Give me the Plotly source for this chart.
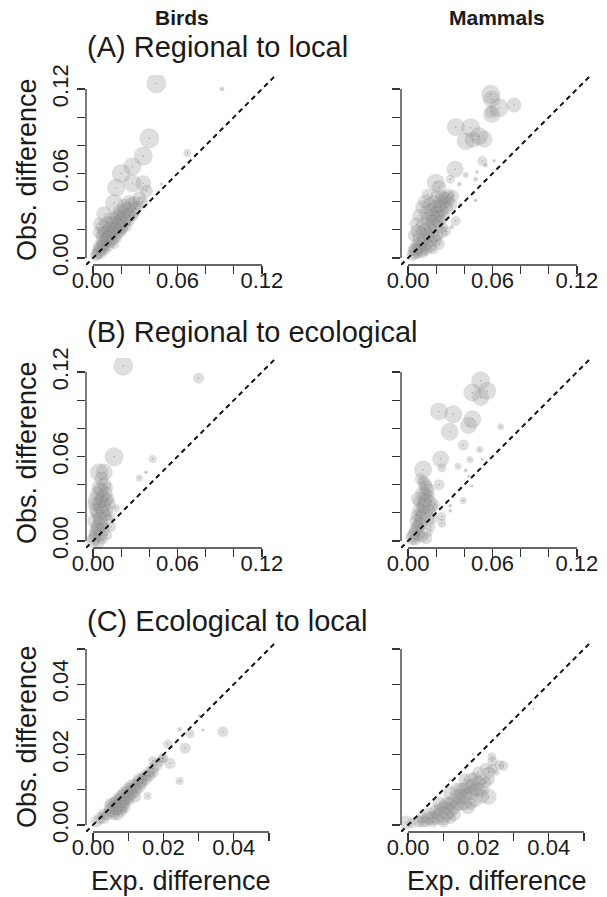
import plotly.graph_objects as go

W, H = 607, 897

# ---------------- data (x = expected diff, y = observed diff, s = weight) ----------------
a_birds_x = [0.045,0.0916,0.040,0.0357,0.028,0.020,0.0164,0.028,0.0357,0.038,0.0486,0.067,0.015,0.0079,0.0257,0.033,
             0.003,0.005,0.004,0.006,0.008,0.008,0.010,0.010,0.012,0.012,0.014,0.014,0.016,0.016,0.018,0.018,0.020,0.020,
             0.022,0.022,0.024,0.026,0.028,0.030,0.025,0.006,0.009,0.012,0.013,0.018,0.015,0.020,0.024,0.004,0.005,0.007,0.010,0.010,
             0.002,0.004,0.007,0.009,0.011,0.013,0.015,0.017,0.019,0.021,0.023,0.027,0.029,0.011,0.008,0.006,0.014,0.016,0.019,0.022,
             0.017,0.021,0.026,0.029,0.032,0.035]
a_birds_y = [0.124,0.120,0.085,0.0725,0.065,0.060,0.050,0.053,0.053,0.0476,0.0526,0.0746,0.039,0.031,0.039,0.0426,
             0.003,0.004,0.008,0.007,0.006,0.010,0.009,0.013,0.012,0.016,0.014,0.019,0.017,0.022,0.020,0.025,0.022,0.027,
             0.025,0.030,0.028,0.030,0.033,0.035,0.035,0.012,0.015,0.022,0.028,0.030,0.010,0.018,0.022,0.018,0.024,0.022,0.025,0.019,
             0.002,0.005,0.009,0.012,0.015,0.018,0.021,0.024,0.028,0.032,0.034,0.038,0.040,0.020,0.018,0.016,0.025,0.028,0.033,0.037,
             0.014,0.020,0.026,0.030,0.037,0.040]
a_birds_s = [20,5,20,19,18,19,18,18,16,13,3,8,18,16,16,14,
             12,14,12,14,12,14,14,14,14,14,14,14,14,14,14,14,14,14,
             14,14,14,14,14,14,14,12,12,12,14,14,10,10,10,12,14,14,14,14,
             12,14,14,14,14,14,14,14,14,14,14,14,12,14,14,12,14,14,14,14,
             10,10,10,10,10,12]

a_mam_x = [0.0587,0.0594,0.0646,0.0594,0.0753,0.059,0.0339,0.0445,0.041,0.0504,0.054,0.046,0.0528,0.055,0.061,0.0334,0.041,0.049,
           0.048,0.0365,0.048,0.030,0.0197,0.022,0.028,0.0339,0.037,0.0066,0.027,0.031,
           0.003,0.005,0.008,0.010,0.012,0.014,0.015,0.016,0.018,0.018,0.020,0.020,0.022,0.022,0.024,0.025,0.027,0.028,0.026,0.030,
           0.012,0.008,0.010,0.013,0.016,0.020,0.024,0.006,0.004,0.017,0.021,0.023,0.032,
           0.008,0.010,0.012,0.006,0.004,0.014,0.016,0.018,0.022,0.018,
           0.006,0.009,0.011,0.013,0.015,0.017,0.019,0.021,0.023,0.025,0.011,0.013,0.015,0.019,0.024,0.029,0.009,0.007,0.012,
           0.017,0.021,0.025,0.014,0.020]
a_mam_y = [0.1163,0.1127,0.1067,0.102,0.1087,0.104,0.093,0.0925,0.083,0.0866,0.0843,0.084,0.0689,0.066,0.069,0.063,0.059,0.061,
           0.056,0.0526,0.041,0.056,0.0535,0.050,0.0428,0.0263,0.038,0.019,0.019,0.022,
           0.002,0.004,0.008,0.006,0.012,0.010,0.016,0.020,0.015,0.024,0.022,0.028,0.030,0.026,0.034,0.030,0.036,0.040,0.042,0.038,
           0.020,0.014,0.004,0.006,0.008,0.012,0.018,0.010,0.006,0.030,0.036,0.040,0.044,
           0.030,0.036,0.040,0.024,0.016,0.028,0.034,0.040,0.010,0.006,
           0.006,0.010,0.014,0.017,0.022,0.026,0.030,0.033,0.037,0.039,0.024,0.032,0.038,0.036,0.044,0.045,0.019,0.003,0.008,
           0.012,0.016,0.022,0.045,0.044]
a_mam_s = [19,17,19,17,15,13,18,19,18,18,17,16,10,5,4,17,6,4,
           5,5,4,9,18,15,14,10,4,14,10,5,
           12,14,14,14,14,12,14,14,14,14,14,14,14,14,14,14,14,14,14,14,
           14,14,12,12,12,12,12,12,12,14,14,14,12,
           14,14,14,14,12,14,14,14,12,10,
           14,14,14,14,14,14,14,14,14,14,14,14,14,14,12,12,12,10,12,
           12,12,10,12,12]

b_birds_x = [0.0214,0.075,0.015,0.0043,0.0079,0.0329,0.0376,0.0424,0.0162,0.0055,0.002,0.0093,
             0.001,0.002,0.003,0.001,0.004,0.002,0.005,0.006,0.007,0.008,0.004,0.008,0.010,0.010,0.012,0.006,0.003,0.009,0.012,
             0.010,0.013,0.000,0.004,0.007,
             0.002,0.003,0.004,0.005,0.003,0.006,0.005,0.007,0.004,0.008,0.001,0.009,0.007,0.011,0.006,0.010]
b_birds_y = [0.1245,0.1157,0.0598,0.0488,0.0488,0.0448,0.0488,0.0583,0.0233,0.036,0.029,0.029,
             0.002,0.006,0.010,0.014,0.018,0.022,0.004,0.012,0.020,0.025,0.026,0.008,0.015,0.022,0.018,0.030,0.034,0.034,0.026,
             0.004,0.010,0.000,-0.001,0.001,
             0.004,0.008,0.012,0.016,0.020,0.024,0.028,0.032,0.038,0.040,0.026,0.018,0.010,0.030,0.044,0.038]
b_birds_s = [20,11,19,18,17,7,4,8,8,15,16,14,
             14,14,14,14,14,14,14,14,14,14,14,12,12,12,10,14,14,14,12,
             10,10,14,12,10,
             14,14,14,14,14,14,14,14,14,14,14,12,12,12,14,12]

b_mam_x = [0.0516,0.0457,0.0563,0.0516,0.022,0.0322,0.0457,0.043,0.0296,0.0658,0.0393,0.0509,0.0232,0.024,0.0355,0.044,0.0526,
           0.0107,0.022,0.041,0.043,0.0393,0.030,0.032,0.0239,0.024,0.030,0.0455,
           0.003,0.005,0.007,0.006,0.009,0.010,0.008,0.012,0.011,0.013,0.010,0.014,0.012,0.016,0.015,0.018,0.016,0.014,0.019,
           0.008,0.013,0.007,0.009,
           0.004,0.006,0.008,0.009,0.010,0.011,0.012,0.012,0.013,0.011,0.015,0.017,0.006,0.008,0.005,0.010,0.015,0.018]
b_mam_y = [0.1138,0.1055,0.1067,0.1019,0.092,0.090,0.0864,0.082,0.0776,0.0812,0.0681,0.065,0.0583,0.052,0.053,0.0579,0.058,
           0.0507,0.040,0.050,0.046,0.0288,0.025,0.031,0.0174,0.0126,0.0215,0.039,
           0.002,0.006,0.010,0.014,0.012,0.018,0.022,0.020,0.026,0.030,0.034,0.036,0.040,0.028,0.022,0.016,0.010,0.006,0.026,
           0.004,0.002,0.030,0.044,
           0.004,0.008,0.012,0.016,0.021,0.024,0.028,0.033,0.038,0.042,0.032,0.020,0.018,0.028,0.001,0.003,0.014,0.024]
b_mam_s = [19,18,18,17,18,18,18,17,18,7,11,7,17,9,7,7,3,
           18,11,4,3,7,4,3,9,9,4,3,
           14,14,14,14,14,14,14,14,14,14,14,14,14,12,12,10,10,10,10,
           12,12,14,12,
           14,14,14,14,14,14,14,14,14,12,12,10,12,12,12,12,10,10]

c_birds_x = [0.0369,0.0312,0.0303,0.0276,0.0246,0.0262,0.0212,0.0219,0.0246,0.0155,0.0197,0.0169,0.0141,
             0.001,0.002,0.003,0.004,0.005,0.006,0.006,0.007,0.007,0.008,0.008,0.009,0.009,0.010,0.010,0.011,0.011,0.012,
             0.013,0.013,0.014,0.015,0.016,0.017,0.018,0.006,0.008,0.009,0.012,
             0.003,0.005,0.006,0.007,0.008,0.009,0.010,0.011,0.012,0.013,0.014,0.015,0.016,0.017,0.019,0.020,0.008,0.010,0.007,0.005]
c_birds_y = [0.0265,0.027,0.031,0.0259,0.0272,0.0218,0.023,0.0175,0.0125,0.0082,0.0189,0.0183,0.0137,
             0.001,0.002,0.002,0.003,0.004,0.005,0.006,0.005,0.007,0.006,0.008,0.007,0.009,0.008,0.010,0.009,0.011,0.010,
             0.011,0.012,0.012,0.013,0.014,0.015,0.017,0.003,0.004,0.005,0.008,
             0.003,0.005,0.004,0.006,0.007,0.008,0.009,0.010,0.011,0.013,0.013,0.014,0.015,0.016,0.018,0.019,0.005,0.007,0.003,0.006]
c_birds_s = [11,3,4,9,5,11,9,11,8,8,9,9,10,
             12,12,12,12,14,14,14,16,14,16,14,14,14,14,14,14,14,14,
             14,14,12,12,12,12,12,12,12,12,12,
             12,14,14,16,16,16,14,14,14,12,12,12,12,12,10,10,14,12,12,12]

c_mam_x = [0.0238,0.0271,0.0229,-0.0006,0.0356,0.0185,0.0118,0.025,
           0.001,0.003,0.004,0.005,0.006,0.007,0.008,0.009,0.010,0.010,0.011,0.012,0.013,0.013,0.014,0.015,0.015,0.016,
           0.017,0.017,0.018,0.018,0.019,0.020,0.020,0.021,0.022,0.023,0.024,0.026,0.012,0.009,0.016,
           0.006,0.008,0.009,0.011,0.011,0.012,0.013,0.014,0.014,0.015,0.016,0.016,0.017,0.018,0.019,0.019,0.020,0.021,0.022,
           0.023,0.024,0.012,0.010,0.007,0.004,0.018,0.021]
c_mam_y = [0.0194,0.0168,0.008,0.0007,0.033,0.0202,0.0127,0.015,
           0.0005,0.001,0.002,0.001,0.003,0.002,0.004,0.003,0.005,0.002,0.006,0.004,0.007,0.003,0.008,0.006,0.010,0.008,
           0.011,0.005,0.013,0.009,0.007,0.012,0.015,0.010,0.016,0.013,0.018,0.017,0.009,0.006,0.013,
           0.002,0.002,0.004,0.003,0.005,0.006,0.005,0.006,0.010,0.008,0.010,0.006,0.009,0.011,0.010,0.013,0.010,0.013,0.012,
           0.015,0.016,0.002,0.001,0.001,0.001,0.006,0.008]
c_mam_s = [9,10,16,14,2,2,2,7,
           10,12,12,12,14,14,14,14,14,14,14,14,14,14,14,14,14,14,
           14,14,14,14,14,14,12,14,12,12,10,10,14,14,12,
           14,14,14,14,14,14,14,14,14,14,14,14,14,14,14,14,14,12,12,
           12,10,12,12,12,12,12,14]

col_titles = ["Birds", "Mammals"]
row_titles = ["(A) Regional to local", "(B) Regional to ecological", "(C) Ecological to local"]
y_title = "Obs. difference"
x_title = "Exp. difference"

ticks_ab = [0.0, 0.02, 0.04, 0.06, 0.08, 0.10, 0.12]
labels_ab = ["0.00", "", "", "0.06", "", "", "0.12"]
ticks_c = [0.0, 0.01, 0.02, 0.03, 0.04, 0.05]
labels_c = ["0.00", "", "0.02", "", "0.04", ""]
range_ab = [-0.005, 0.130]
range_c = [-0.002, 0.052]

panels = [
    (a_birds_x, a_birds_y, a_birds_s), (a_mam_x, a_mam_y, a_mam_s),
    (b_birds_x, b_birds_y, b_birds_s), (b_mam_x, b_mam_y, b_mam_s),
    (c_birds_x, c_birds_y, c_birds_s), (c_mam_x, c_mam_y, c_mam_s),
]

# ---------------- layout geometry (pixels) ----------------
def px(x): return x / W
def py(y): return 1 - y / H

col_px = [(86, 276), (401, 591)]
row_px = [(75, 265), (358, 548), (642, 832)]

FONT = "Liberation Sans, Arial, Helvetica, sans-serif"
TXT = "#1a1a1a"
AX = "#333333"

fig = go.Figure()
layout = dict(
    width=W, height=H, margin=dict(l=0, r=0, t=0, b=0, autoexpand=False),
    paper_bgcolor="white", plot_bgcolor="white", showlegend=False,
    font=dict(family=FONT, color=TXT),
)
shapes = []
annotations = []

for i, (xs, ys, ss) in enumerate(panels):
    r, c = divmod(i, 2)
    n = i + 1
    xa = "x" if n == 1 else f"x{n}"
    ya = "y" if n == 1 else f"y{n}"
    rng = range_c if r == 2 else range_ab
    tv = ticks_c if r == 2 else ticks_ab
    tt = labels_c if r == 2 else labels_ab
    ytt = tt if c == 0 else [""] * len(tv)

    fig.add_trace(go.Scatter(
        x=xs, y=ys, mode="markers", xaxis=xa, yaxis=ya, hoverinfo="skip",
        marker=dict(size=ss, sizemode="diameter",
                    color="rgba(150,150,150,0.44)", line=dict(width=0)),
    ))
    fig.add_trace(go.Scatter(
        x=xs, y=ys, mode="markers", xaxis=xa, yaxis=ya, hoverinfo="skip",
        marker=dict(size=1.4, color="rgba(120,120,120,0.6)", line=dict(width=0)),
    ))

    axcommon = dict(range=rng, showgrid=False, zeroline=False, showline=False, automargin=False,
                    ticks="outside", ticklen=8, tickwidth=1.3, tickcolor=AX,
                    tickmode="array", tickvals=tv,
                    tickfont=dict(family=FONT, size=22, color=TXT), fixedrange=True)
    layout["xaxis" if n == 1 else f"xaxis{n}"] = dict(
        axcommon, domain=[px(col_px[c][0]), px(col_px[c][1])], anchor=ya, tickangle=0, ticktext=tt,
        ticklabelstandoff=-12)
    layout["yaxis" if n == 1 else f"yaxis{n}"] = dict(
        axcommon, domain=[py(row_px[r][1]), py(row_px[r][0])], anchor=xa, tickangle=-90, ticktext=ytt)

    # axis lines from first to last tick (R style)
    shapes.append(dict(type="line", xref=xa, yref=f"{ya} domain", x0=tv[0], x1=tv[-1], y0=0, y1=0,
                       line=dict(color=AX, width=1.3)))
    shapes.append(dict(type="line", xref=f"{xa} domain", yref=ya, x0=0, x1=0, y0=tv[0], y1=tv[-1],
                       line=dict(color=AX, width=1.3)))
    # 1:1 reference line across the plot region
    shapes.append(dict(type="line", xref=xa, yref=ya, x0=rng[0], y0=rng[0], x1=rng[1], y1=rng[1],
                       line=dict(color="#111111", width=2, dash="5px,4px"), layer="above"))

# column titles
for c, t in enumerate(col_titles):
    cx = (182, 497)[c]
    annotations.append(dict(text=f"<b>{t}</b>", x=px(cx), y=py(18), xref="paper", yref="paper",
                            xanchor="center", yanchor="middle", showarrow=False,
                            font=dict(family=FONT, size=21, color=TXT)))
# row titles
for r, t in enumerate(row_titles):
    cy = (47, 332, 621)[r]
    annotations.append(dict(text=t, x=px(85), y=py(cy), xref="paper", yref="paper",
                            xanchor="left", yanchor="middle", showarrow=False,
                            font=dict(family=FONT, size=29, color=TXT)))
# y titles
for r in range(3):
    cy = (row_px[r][0] + row_px[r][1]) / 2
    annotations.append(dict(text=y_title, x=px(27), y=py(cy), xref="paper", yref="paper",
                            xanchor="center", yanchor="middle", textangle=-90, showarrow=False,
                            font=dict(family=FONT, size=27, color=TXT)))
# x titles
for c in range(2):
    cx = (181, 497)[c]
    annotations.append(dict(text=x_title, x=px(cx), y=py(881), xref="paper", yref="paper",
                            xanchor="center", yanchor="middle", showarrow=False,
                            font=dict(family=FONT, size=27, color=TXT)))

layout["shapes"] = shapes
layout["annotations"] = annotations
fig.update_layout(**layout)
fig.write_html("out.html", config={"displayModeBar": False, "staticPlot": True},
               post_script="document.body.style.margin='0px';document.body.style.overflow='hidden';")
